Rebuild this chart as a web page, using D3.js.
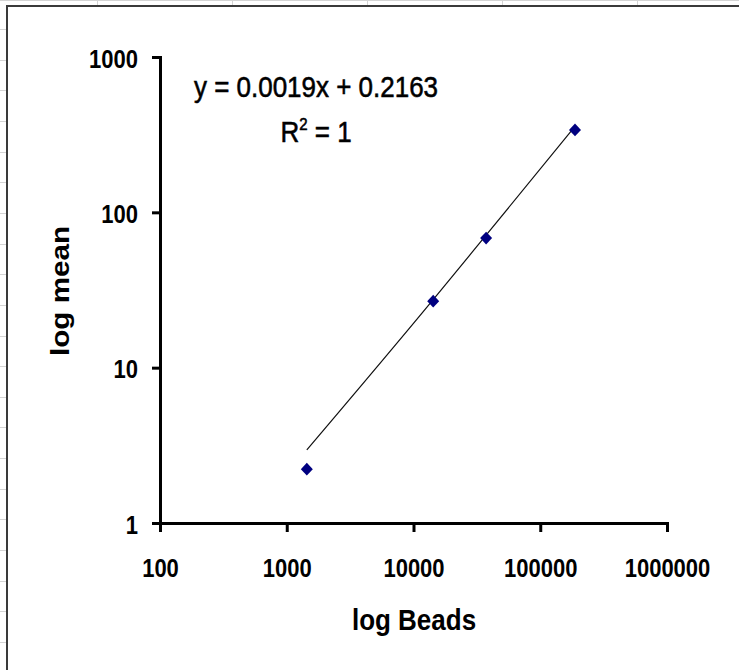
<!DOCTYPE html>
<html>
<head>
<meta charset="utf-8">
<script src="https://cdn.jsdelivr.net/npm/d3@7"></script>
<style>
  body { margin: 0; background: #fff; }
  svg { display: block; font-family: "Liberation Sans", Arial, sans-serif; }
</style>
</head>
<body>
<script>
// data
const beads = [1440, 14300, 37400, 188000];
const means = [2.22, 26.8, 68.3, 339];
const xTicks = [100, 1000, 10000, 100000, 1000000];
const yTicks = [1, 10, 100, 1000];
const slope = 0.0019, intercept = 0.2163;

const width = 739, height = 670;
const stretch = 1.14; // the excel text looks a bit tall

const svg = d3.select("body").append("svg")
  .attr("width", width).attr("height", height);

// spreadsheet grid behind the chart object
const grid = svg.append("g").attr("stroke", "#d4d4d4").attr("stroke-width", 1);
d3.range(97, width, 135).forEach(x => {
  grid.append("line").attr("x1", x + 0.5).attr("x2", x + 0.5).attr("y1", 0).attr("y2", 6);
});
grid.append("line").attr("x1", 0).attr("x2", width).attr("y1", 0.5).attr("y2", 0.5);
d3.range(29, height, 30.65).forEach(y => {
  grid.append("line").attr("x1", 0).attr("x2", 7).attr("y1", Math.round(y) + 0.5).attr("y2", Math.round(y) + 0.5);
});

// chart object box
svg.append("rect").attr("x", 7).attr("y", 6).attr("width", width + 10).attr("height", height + 10)
  .attr("fill", "#fff").attr("stroke", "#3a3a3a").attr("stroke-width", 2);

const x = d3.scaleLog().domain([100, 1000000]).range([160, 667]);
const y = d3.scaleLog().domain([1, 1000]).range([523, 57]);

const xAxis = svg.append("g").attr("transform", "translate(0,523)")
  .call(d3.axisBottom(x).tickValues(xTicks).tickFormat(d3.format("d")).tickSize(9));
const yAxis = svg.append("g").attr("transform", "translate(160,0)")
  .call(d3.axisLeft(y).tickValues(yTicks).tickFormat(d3.format("d")).tickSize(8));

[xAxis, yAxis].forEach(g => {
  g.select(".domain").attr("stroke", "#000").attr("stroke-width", 3);
  g.selectAll(".tick line").attr("stroke", "#000").attr("stroke-width", 3);
  g.selectAll(".tick text").attr("fill", "#000")
    .style("font-size", "22px").style("font-weight", "bold")
    .attr("x", 0).attr("y", 0).attr("dy", "0.36em");
});
xAxis.selectAll(".tick text").attr("transform", "translate(0,45) scale(1," + stretch + ")");
yAxis.selectAll(".tick text").attr("transform", "translate(-22,1) scale(1," + stretch + ")");

// linear trendline from the displayed equation, evaluated at the data x values
const trend = beads.map(b => [b, slope * b + intercept]);
svg.append("path").datum(trend)
  .attr("fill", "none").attr("stroke", "#111").attr("stroke-width", 1.2)
  .attr("d", d3.line().x(d => x(d[0])).y(d => y(d[1])).curve(d3.curveMonotoneX));

// diamond markers
svg.append("g").selectAll("path").data(beads).enter().append("path")
  .attr("transform", (d, i) => "translate(" + x(d) + "," + y(means[i]) + ") scale(1,1.06) rotate(45)")
  .attr("d", d3.symbol(d3.symbolSquare, 72))
  .attr("fill", "#000080");

// equation label
svg.append("text").attr("transform", "translate(316,86) scale(1," + stretch + ")")
  .attr("text-anchor", "middle").attr("dy", "0.36em")
  .style("font-size", "26px").attr("fill", "#000")
  .attr("stroke", "#000").attr("stroke-width", 0.5)
  .text("y = 0.0019x + 0.2163");
const r2 = svg.append("text").attr("transform", "translate(316,131) scale(1," + stretch + ")")
  .attr("text-anchor", "middle").attr("dy", "0.36em")
  .style("font-size", "26px").attr("fill", "#000")
  .attr("stroke", "#000").attr("stroke-width", 0.5);
r2.append("tspan").text("R");
r2.append("tspan").attr("dy", -10).style("font-size", "15px").text("2");
r2.append("tspan").attr("dy", 10).text(" = 1");

// axis titles
svg.append("text").attr("transform", "translate(414,619) scale(1," + stretch + ")")
  .attr("text-anchor", "middle").attr("dy", "0.36em")
  .style("font-size", "26px").style("font-weight", "bold").text("log Beads");
svg.append("text").attr("transform", "translate(60,291) scale(1," + stretch + ") rotate(-90)")
  .attr("text-anchor", "middle").attr("dy", "0.36em")
  .style("font-size", "26px").style("font-weight", "bold").text("log mean");
</script>
</body>
</html>
